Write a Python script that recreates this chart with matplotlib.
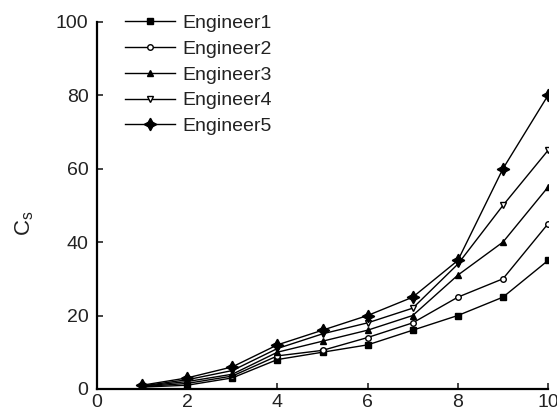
import matplotlib
matplotlib.use("Agg")
import matplotlib.pyplot as plt

plt.rcParams["font.family"] = ["Liberation Sans", "DejaVu Sans"]
plt.rcParams["mathtext.fontset"] = "custom"
plt.rcParams["mathtext.rm"] = "Liberation Sans"

x = [1, 2, 3, 4, 5, 6, 7, 8, 9, 10]
engineer1 = [0.5, 1, 3, 8, 10, 12, 16, 20, 25, 35]
engineer2 = [0.6, 1.5, 3.5, 9, 10.5, 14, 18, 25, 30, 45]
engineer3 = [0.7, 2, 4, 10, 13, 16, 20, 31, 40, 55]
engineer4 = [0.8, 2.5, 5, 11, 15, 18, 22, 34, 50, 65]
engineer5 = [1, 3, 6, 12, 16, 20, 25, 35, 60, 80]

series = [
    ("Engineer1", engineer1, dict(marker="s", ms=5, mfc="black")),
    ("Engineer2", engineer2, dict(marker="o", ms=4, mfc="white")),
    ("Engineer3", engineer3, dict(marker="^", ms=5, mfc="black")),
    ("Engineer4", engineer4, dict(marker="v", ms=5, mfc="white")),
    ("Engineer5", engineer5, dict(marker=(4, 1, 0), ms=9, mfc="black")),
]

fig = plt.figure(figsize=(5.57, 4.2), dpi=100)
ax = fig.add_axes([0.174, 0.074, 0.81, 0.874])

for name, ys, style in series:
    ax.plot(x, ys, color="black", lw=1, mec="black", label=name, **style)

ax.set_xlim(0, 10)
ax.set_ylim(0, 100)
ax.set_xticks(range(0, 11, 2))
ax.set_yticks(range(0, 101, 20))
ax.tick_params(direction="in", length=4, width=1.2, labelsize=14, colors="#222222")
ax.tick_params(axis="y", pad=6)
for s in ["top", "right"]:
    ax.spines[s].set_visible(False)
for s in ["left", "bottom"]:
    ax.spines[s].set_linewidth(1.6)
ax.set_ylabel(r"$\mathrm{C}_{\mathrm{s}}$", fontsize=16, color="#222222")
ax.yaxis.set_label_coords(-0.135, 0.45)

ax.legend(loc="upper left", bbox_to_anchor=(0.062, 1.02), frameon=False,
          fontsize=14, handlelength=2.6, labelspacing=0.42, handletextpad=0.35,
          borderpad=0, borderaxespad=0, labelcolor="#222222")

fig.savefig("out.png", dpi=100)
